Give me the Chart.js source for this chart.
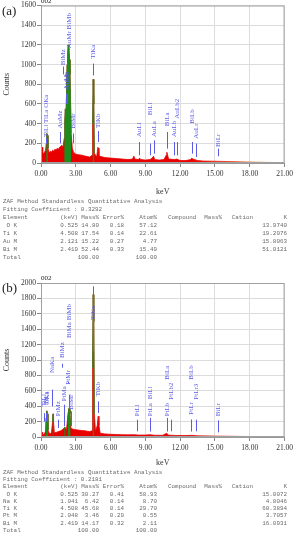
<!DOCTYPE html>
<html>
<head>
<meta charset="utf-8">
<script src="https://cdn.jsdelivr.net/npm/chart.js@4.4.1/dist/chart.umd.min.js"></script>
<style>
body { margin: 0; background: #fff; width: 296px; height: 537px; overflow: hidden; position: relative; }
canvas { position: absolute; left: 0; }
#chartA { top: 0; }
#chartB { top: 266px; }
#tables { position: absolute; left: 0; top: 0; width: 592px; height: 1074px; transform: scale(0.5);
          transform-origin: 0 0; font-family: "Liberation Mono", "Courier New", "DejaVu Sans Mono", monospace;
          font-size: 11.8px; line-height: 16px; color: #6a6a6a; white-space: pre; pointer-events: none; }
#tables div { position: absolute; left: 0; width: 592px; height: 16px; }
#tables span { position: absolute; top: 0; }
</style>
</head>
<body>
<canvas id="chartA" width="296" height="197"></canvas>
<canvas id="chartB" width="296" height="202"></canvas>
<div id="tables"></div>
<script>
/******** SPECTRUM (a) ********/
const kevA = [0.00, 0.05, 0.10, 0.15, 0.20, 0.30, 0.40, 0.45, 0.50, 0.55, 0.60, 0.70, 0.80, 0.90, 1.00, 1.10, 1.20, 1.30,
  1.40, 1.50, 1.60, 1.70, 1.80, 1.90, 2.00, 2.05, 2.10, 2.15, 2.20, 2.25, 2.30, 2.35, 2.40, 2.45, 2.50, 2.55, 2.60, 2.70,
  2.80, 3.00, 3.20, 3.50, 3.80, 4.00, 4.20, 4.40, 4.45, 4.50, 4.55, 4.60, 4.80, 4.90, 4.95, 5.00, 5.50, 6.00, 6.50, 7.00,
  7.50, 7.90, 8.00, 8.10, 8.40, 8.50, 8.60, 9.00, 9.40, 9.60, 9.70, 9.80, 10.20, 10.60, 10.80, 10.85, 10.90, 11.00, 11.50,
  11.70, 12.00, 12.50, 12.90, 13.00, 13.10, 13.50, 14.00, 15.00, 16.00, 17.00, 18.00, 19.00, 20.00, 21.00];
const countsA = [0, 60, 160, 120, 90, 110, 130, 200, 300, 280, 150, 100, 120, 110, 130, 120, 140, 130,
  150, 140, 160, 170, 180, 160, 250, 420, 550, 400, 700, 1000, 1100, 1200, 1180, 1050, 900, 600, 300, 150,
  110, 90, 85, 80, 70, 65, 60, 80, 400, 850, 600, 100, 60, 160, 150, 70, 55, 50, 45, 40,
  35, 40, 70, 40, 35, 50, 35, 30, 35, 50, 70, 35, 30, 35, 80, 110, 90, 40, 35,
  40, 25, 25, 35, 50, 40, 25, 20, 18, 15, 12, 10, 8, 5, 0];
const greenWinA = [[0.45, 0.60], [2.00, 2.60], [4.45, 4.60]];

const markNamesA = ['TiLl TiLa OKa', 'AuMz', 'BiMz', 'AuMa', 'AuMb', 'AuMr BiMb', 'BiMr', 'TiKa', 'TiKb', 'AuLl', 'BiLl',
  'AuLa', 'BiLa', 'AuLb', 'AuLb2', 'BiLb', 'AuLr', 'BiLr'];
const markKevA = [0.45, 1.66, 1.90, 2.12, 2.20, 2.44, 2.80, 4.51, 4.93, 8.49, 9.42, 9.71, 10.84, 11.44, 11.70, 13.02, 13.38, 15.25];
const markBottomA = [190, 200, 900, 600, 600, 1150, 200, 890, 213, 78, 78, 95, 146, 78, 78, 95, 61, 68];
const markTopA = [255, 315, 980, 705, 705, 1160, 300, 1010, 325, 213, 197, 230, 315, 213, 213, 213, 197, 146];
const markBaseA = [265, 350, 993, 745, 745, 1165, 350, 1060, 355, 264, 485, 264, 373, 264, 450, 400, 247, 163];

/******** SPECTRUM (b) ********/
const kevB = [0.00, 0.05, 0.10, 0.15, 0.20, 0.30, 0.40, 0.45, 0.50, 0.55, 0.60, 0.70, 0.80, 0.90, 1.00, 1.04, 1.08, 1.15,
  1.30, 1.50, 1.70, 1.80, 1.90, 2.00, 2.05, 2.10, 2.20, 2.30, 2.40, 2.45, 2.50, 2.55, 2.60, 2.80, 3.00, 3.20, 3.50, 3.80,
  4.00, 4.20, 4.40, 4.45, 4.50, 4.55, 4.60, 4.70, 4.85, 4.93, 5.00, 5.10, 5.50, 6.00, 6.50, 7.00, 7.50, 8.00, 8.40, 9.00,
  9.40, 9.80, 10.50, 10.85, 10.95, 11.50, 12.50, 13.00, 13.50, 15.00, 16.00, 17.00, 18.00, 19.00, 20.00, 21.00];
const countsB = [0, 30, 60, 40, 30, 40, 80, 250, 340, 300, 90, 50, 45, 55, 200, 300, 200, 55,
  60, 70, 80, 90, 100, 120, 130, 110, 100, 250, 370, 360, 300, 150, 110, 100, 95, 90, 85, 80,
  75, 70, 80, 900, 1850, 1500, 300, 70, 150, 270, 150, 50, 40, 35, 32, 30, 28, 30, 25, 25,
  30, 22, 22, 50, 25, 20, 18, 22, 15, 12, 10, 8, 6, 5, 3, 0];
const greenWinB = [[0.40, 0.60], [0.98, 1.12], [1.95, 2.12], [2.25, 2.55], [4.42, 4.60]];

const markNamesB = ['TiLl', 'TiLa', 'OKa', 'NaKa', 'PtMz', 'BiMz', 'PtMa', 'PtMr', 'BiMa BiMb', 'BiMr', 'TiKa', 'TiKb',
  'PtLl', 'PtLa', 'BiLl', 'PtLb', 'BiLa', 'PtLb2', 'PtLr', 'BiLb', 'PtLr3', 'BiLr'];
const markKevB = [0.27, 0.45, 0.52, 0.91, 1.48, 1.80, 1.95, 2.30, 2.44, 2.58, 4.51, 4.93,
  8.27, 9.44, 9.44, 10.86, 10.86, 11.22, 12.94, 12.94, 13.36, 15.25];
const markBottomB = [200, 200, 200, 398, 117, 900, 140, 700, 350, 140, 1100, 312,
  74, 74, 74, 74, 74, 74, 74, 74, 74, 60];
const markTopB = [310, 310, 310, 615, 225, 950, 420, 720, 550, 333, 1957, 463,
  225, 247, 247, 247, 247, 225, 225, 225, 225, 216];
const markBaseB = [398, 420, 420, 830, 268, 1026, 463, 680, 1285, 355, 1520, 528,
  268, 268, 490, 268, 745, 485, 290, 745, 485, 268];

/******** TABLES ********/
const elemA = [' O K', 'Ti K', 'Au M', 'Bi M'];
const tKevA = ['0.525', '4.508', '2.121', '2.419'];
const massA = ['14.80', '17.54', '15.22', '52.44'];
const errA = ['0.18', '0.14', '0.27', '0.33'];
const atomA = ['57.12', '22.61', '4.77', '15.49'];
const kA = ['13.9740', '19.2076', '15.8063', '51.0121'];

const elemB = [' O K', 'Na K', 'Ti K', 'Pt M', 'Bi M'];
const tKevB = ['0.525', '1.041', '4.508', '2.048', '2.419'];
const massB = ['30.27', '6.42', '45.68', '3.46', '14.17'];
const errB = ['0.41', '0.14', '0.14', '0.29', '0.32'];
const atomB = ['58.93', '8.70', '29.70', '0.55', '2.11'];
const kB = ['15.0072', '4.8046', '60.3894', '3.7057', '16.0931'];

/******** HELPERS ********/
function inWindow(k, wins) {
    return wins.some(w => k >= w[0] && k <= w[1]);
}

function redFill(c) {
    const a = c.chart.chartArea;
    if (!a) return '#e60000';
    const g = c.chart.ctx.createLinearGradient(a.left, 0, a.right, 0);
    g.addColorStop(0, '#e80000');
    g.addColorStop(0.6, '#e80000');
    g.addColorStop(0.8, '#ef3a10');
    g.addColorStop(0.92, '#f8a040');
    g.addColorStop(1, '#fff2b8');
    return g;
}

const peakMarks = {
    id: 'peakMarks',
    afterDatasetsDraw(chart, args, o) {
        const ctx = chart.ctx, xs = chart.scales.x, ys = chart.scales.y, a = chart.chartArea;
        ctx.save();
        ctx.strokeStyle = '#5c5ce8';
        ctx.fillStyle = '#5c5ce8';
        ctx.lineWidth = 1;
        ctx.font = '7px "Liberation Serif"';
        ctx.textBaseline = 'middle';
        ctx.textAlign = 'left';
        o.names.forEach((n, i) => {
            const x = Math.round(xs.getPixelForValue(o.kev[i])) + 0.5;
            ctx.beginPath();
            ctx.moveTo(x, ys.getPixelForValue(o.bottom[i]));
            ctx.lineTo(x, ys.getPixelForValue(o.top[i]));
            ctx.stroke();
            ctx.save();
            ctx.translate(x, ys.getPixelForValue(o.base[i]));
            ctx.rotate(-Math.PI / 2);
            ctx.fillText(n, 0, 0);
            ctx.restore();
        });
        // plot frame
        ctx.strokeStyle = '#a0a0a0';
        ctx.strokeRect(a.left + 0.5, a.top + 0.5, a.width - 1, a.height - 1);
        ctx.restore();
    },
    afterDraw(chart, args, o) {
        const ctx = chart.ctx, a = chart.chartArea;
        ctx.save();
        ctx.fillStyle = '#222';
        ctx.font = '13px "Liberation Serif"';
        ctx.textBaseline = 'middle';
        ctx.fillText(o.panel, 2, a.top + 6);
        ctx.font = '7px "Liberation Serif"';
        ctx.textBaseline = 'bottom';
        ctx.fillText('002', a.left, a.top - 1);
        ctx.restore();
    }
};

function drawSpectrum(canvasId, kev, counts, wins, yMax, xHeight, topPad, marks, panel) {
    const spec = kev.map((k, i) => ({ x: k, y: counts[i] }));
    const green = kev.map((k, i) => ({ x: k, y: inWindow(k, wins) ? counts[i] : null }));
    const tickFont = { family: 'Liberation Serif', size: 7.5 };
    return new Chart(document.getElementById(canvasId), {
        type: 'line',
        data: {
            datasets: [
                { data: green, fill: 'origin', backgroundColor: '#1c8c1c', borderColor: '#1c8c1c',
                  borderWidth: 0.8, pointRadius: 0, spanGaps: false },
                { data: spec, fill: 'origin', backgroundColor: redFill, borderColor: redFill,
                  borderWidth: 0.8, pointRadius: 0 }
            ]
        },
        options: {
            responsive: false,
            animation: false,
            layout: { padding: { top: topPad, right: 8, left: 0, bottom: 0 } },
            elements: { line: { tension: 0 } },
            plugins: {
                legend: { display: false },
                tooltip: { enabled: false },
                peakMarks: Object.assign({ panel: panel }, marks)
            },
            scales: {
                x: {
                    type: 'linear', min: 0, max: 21,
                    ticks: { stepSize: 3, callback: v => v.toFixed(2), font: tickFont, color: '#333',
                             padding: 3, maxRotation: 0 },
                    grid: { color: '#dcdcdc', tickColor: '#888', tickLength: 4 },
                    border: { color: '#999' },
                    title: { display: true, text: 'keV', font: { family: 'Liberation Serif', size: 8 },
                             color: '#333', padding: { top: 6, bottom: 0 } },
                    afterFit: s => { s.height = xHeight; }
                },
                y: {
                    min: 0, max: yMax,
                    ticks: { stepSize: 200, callback: v => String(v), font: tickFont, color: '#333', padding: 1 },
                    grid: { color: '#dcdcdc', tickColor: '#888', tickLength: 4 },
                    border: { color: '#999' },
                    title: { display: true, text: 'Counts', font: { family: 'Liberation Serif', size: 8 },
                             color: '#333', padding: { top: 2, bottom: 0 } },
                    afterFit: s => { s.width = 41; }
                }
            }
        },
        plugins: [peakMarks]
    });
}

/******** TABLE LAYOUT (pixel columns of the page) ********/
const box = document.getElementById('tables');

function addRow(yCenter, cells) {
    const row = document.createElement('div');
    row.style.top = (2 * yCenter - 8) + 'px';
    cells.forEach(c => {
        const s = document.createElement('span');
        s.textContent = c[0];
        if (c[2] === 'r') s.style.right = (592 - 2 * c[1]) + 'px';
        else s.style.left = (2 * c[1]) + 'px';
        row.appendChild(s);
    });
    box.appendChild(row);
    return row;
}

function buildTable(yFirst, gap, fit, elem, kev, mass, err, atom, k) {
    let y = yFirst;
    const first = addRow(y, [['ZAF Method Standardless Quantitative Analysis', 3]]); y += gap;
    addRow(y, [['Fitting Coefficient : ' + fit, 3]]); y += gap;
    addRow(y, [['Element', 3], ['(keV)', 78, 'r'], ['Mass%', 99, 'r'], ['Error%', 124, 'r'], ['Atom%', 157, 'r'],
        ['Compound', 168], ['Mass%', 222, 'r'], ['Cation', 253, 'r'], ['K', 287, 'r']]); y += gap;
    elem.forEach((e, i) => {
        addRow(y, [[e, 3], [kev[i], 78, 'r'], [mass[i], 99, 'r'], [err[i], 124, 'r'], [atom[i], 157, 'r'],
            [k[i], 287, 'r']]);
        y += gap;
    });
    addRow(y, [['Total', 3], ['100.00', 99, 'r'], ['100.00', 157, 'r']]);
    return first.firstChild;
}

drawSpectrum('chartA', kevA, countsA, greenWinA, 1600, 34, 5,
    { names: markNamesA, kev: markKevA, bottom: markBottomA, top: markTopA, base: markBaseA }, '(a)');
drawSpectrum('chartB', kevB, countsB, greenWinB, 2000, 31, 17,
    { names: markNamesB, kev: markKevB, bottom: markBottomB, top: markTopB, base: markBaseB }, '(b)');

const zafSpan = buildTable(201, 8, '0.3292', elemA, tKevA, massA, errA, atomA, kA);
buildTable(472, 7.25, '0.2181', elemB, tKevB, massB, errB, atomB, kB);

// the title line spans about 160 px in the reference; stretch letters if the font came out narrower
const w = zafSpan.getBoundingClientRect().width;
if (Math.abs(w - 160) > 2) box.style.letterSpacing = ((160 - w) * 2 / 45).toFixed(2) + 'px';
</script>
</body>
</html>
